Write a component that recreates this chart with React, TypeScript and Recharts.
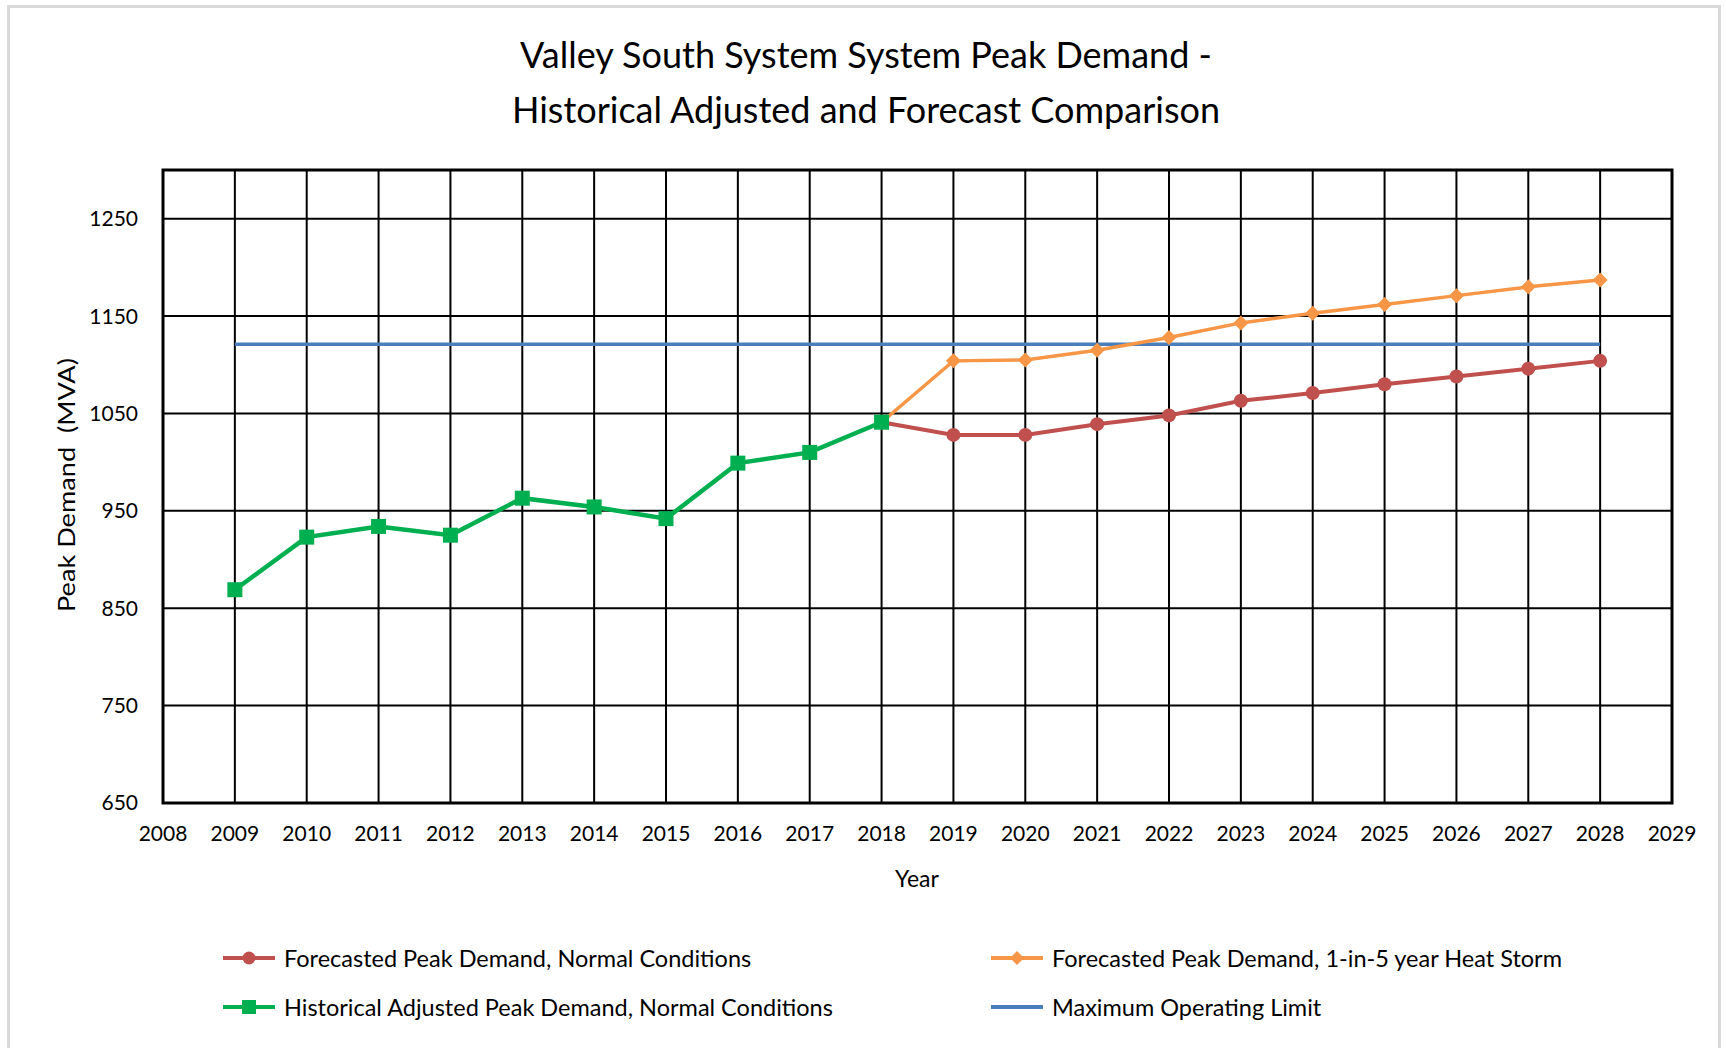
// Valley South peak demand: historical adjusted vs forecast, Excel-style grid chart.

import { CartesianGrid, Line, LineChart, ReferenceArea, XAxis, YAxis } from 'recharts';

const years = [
  2009, 2010, 2011, 2012, 2013, 2014, 2015, 2016, 2017, 2018,
  2019, 2020, 2021, 2022, 2023, 2024, 2025, 2026, 2027, 2028,
];
const historical = [869, 923, 934, 925, 963, 954, 942, 999, 1010, 1041, null, null, null, null, null, null, null, null, null, null];
const forecastNormal = [null, null, null, null, null, null, null, null, null, 1041, 1028, 1028, 1039, 1048, 1063, 1071, 1080, 1088, 1096, 1104];
const forecastHeat = [null, null, null, null, null, null, null, null, null, 1041, 1104, 1105, 1115, 1128, 1143, 1153, 1162, 1171, 1180, 1187];
const operatingLimit = [1121, 1121, 1121, 1121, 1121, 1121, 1121, 1121, 1121, 1121, 1121, 1121, 1121, 1121, 1121, 1121, 1121, 1121, 1121, 1121];

const xTicks = [2008, 2009, 2010, 2011, 2012, 2013, 2014, 2015, 2016, 2017, 2018, 2019, 2020, 2021, 2022, 2023, 2024, 2025, 2026, 2027, 2028, 2029];
const yTicks = [650, 750, 850, 950, 1050, 1150, 1250];

const RED = '#c0504d';
const ORANGE = '#f79646';
const GREEN = '#00b050';
const BLUE = '#4a7ebb';
const FONT = 'Lato, "Open Sans", sans-serif';

const rows = years.map((year, i) => ({
  year,
  historical: historical[i],
  normal: forecastNormal[i],
  heat: forecastHeat[i],
  limit: operatingLimit[i],
}));

function SquareDot(props: any) {
  const { cx, cy, index } = props;
  if (cx == null || cy == null) return <g key={`sq-${index}`} />;
  return <rect key={`sq-${index}`} x={cx - 7.5} y={cy - 7.5} width={15} height={15} fill={GREEN} />;
}

function DiamondDot(props: any) {
  const { cx, cy, index } = props;
  if (cx == null || cy == null) return <g key={`dm-${index}`} />;
  const s = 7.5;
  return (
    <polygon
      key={`dm-${index}`}
      points={`${cx},${cy - s} ${cx + s},${cy} ${cx},${cy + s} ${cx - s},${cy}`}
      fill={ORANGE}
    />
  );
}

function CircleDot(props: any) {
  const { cx, cy, index } = props;
  if (cx == null || cy == null) return <g key={`ci-${index}`} />;
  return <circle key={`ci-${index}`} cx={cx} cy={cy} r={7} fill={RED} />;
}

function LegendItem({ color, marker, label, x, y }: { color: string; marker: string; label: string; x: number; y: number }) {
  return (
    <div style={{ position: 'absolute', left: x, top: y - 14, height: 28, display: 'flex', alignItems: 'center' }}>
      <svg width={54} height={28} style={{ marginRight: 8 }}>
        <line x1={1} y1={14} x2={53} y2={14} stroke={color} strokeWidth={4} />
        {marker === 'circle' && <circle cx={27} cy={14} r={6.5} fill={color} />}
        {marker === 'diamond' && <polygon points="27,7 34,14 27,21 20,14" fill={color} />}
        {marker === 'square' && <rect x={20} y={7} width={14} height={14} fill={color} />}
      </svg>
      <span style={{ fontSize: 23.5, color: '#000', whiteSpace: 'nowrap' }}>{label}</span>
    </div>
  );
}

export default function App() {
  return (
    <div
      style={{
        position: 'absolute',
        left: 0,
        top: 0,
        width: 1726,
        height: 1048,
        background: '#fff',
        fontFamily: FONT,
        overflow: 'hidden',
      }}
    >
      <div
        style={{
          position: 'absolute',
          left: 7,
          top: 5,
          width: 1708,
          height: 1100,
          border: '3px solid #d9d9d9',
        }}
      />
      <div
        style={{
          position: 'absolute',
          left: 0,
          top: 27,
          width: 1732,
          textAlign: 'center',
          fontSize: 36,
          lineHeight: '55px',
          color: '#000',
        }}
      >
        <div>Valley South System System Peak Demand -</div>
        <div>Historical Adjusted and Forecast Comparison</div>
      </div>

      <div style={{ position: 'absolute', left: 0, top: 0 }}>
        <LineChart width={1726} height={1048} data={rows} margin={{ top: 170, right: 54, bottom: 165, left: 63 }}>
          <CartesianGrid stroke="#000" strokeWidth={2} />
          <XAxis
            dataKey="year"
            type="number"
            domain={[2008, 2029]}
            ticks={xTicks}
            interval={0}
            height={80}
            axisLine={false}
            tickLine={false}
            tickSize={0}
            tickMargin={23}
            tick={{ fill: '#000', fontSize: 21, fontFamily: FONT }}
          />
          <YAxis
            type="number"
            domain={[650, 1300]}
            ticks={yTicks}
            interval={0}
            width={100}
            axisLine={false}
            tickLine={false}
            tickSize={0}
            tickMargin={25}
            tick={{ fill: '#000', fontSize: 21, fontFamily: FONT }}
          />
          <ReferenceArea x1={2008} x2={2029} y1={650} y2={1300} fill="none" stroke="#000" strokeWidth={3} />
          <Line dataKey="limit" stroke={BLUE} strokeWidth={3.5} dot={false} isAnimationActive={false} />
          <Line dataKey="heat" stroke={ORANGE} strokeWidth={3.5} dot={DiamondDot} isAnimationActive={false} />
          <Line dataKey="normal" stroke={RED} strokeWidth={4} dot={CircleDot} isAnimationActive={false} />
          <Line dataKey="historical" stroke={GREEN} strokeWidth={4.5} dot={SquareDot} isAnimationActive={false} />
        </LineChart>
      </div>

      <div style={{ position: 'absolute', left: 0, top: 864, width: 1834, textAlign: 'center', fontSize: 23, color: '#000' }}>
        Year
      </div>
      <div
        style={{
          position: 'absolute',
          left: 66,
          top: 485,
          transform: 'translate(-50%, -50%) rotate(-90deg) scaleX(1.18)',
          fontSize: 23,
          whiteSpace: 'pre',
          color: '#000',
        }}
      >
        {'Peak Demand  (MVA)'}
      </div>

      <LegendItem color={RED} marker="circle" label="Forecasted Peak Demand, Normal Conditions" x={222} y={958} />
      <LegendItem color={ORANGE} marker="diamond" label="Forecasted Peak Demand, 1-in-5 year Heat Storm" x={990} y={958} />
      <LegendItem color={GREEN} marker="square" label="Historical Adjusted Peak Demand, Normal Conditions" x={222} y={1007} />
      <LegendItem color={BLUE} marker="none" label="Maximum Operating Limit" x={990} y={1007} />
    </div>
  );
}
